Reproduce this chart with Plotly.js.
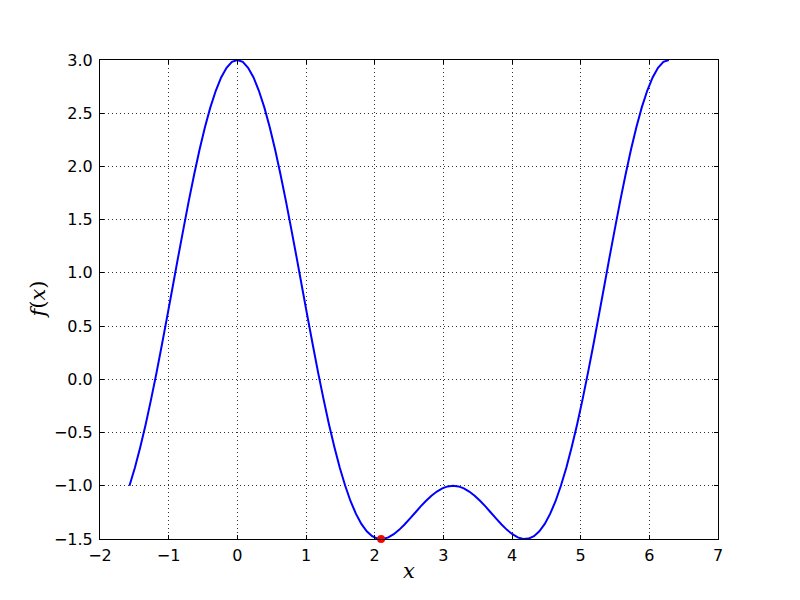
<!DOCTYPE html>
<html>
<head>
<meta charset="utf-8">
<script src="https://cdn.plot.ly/plotly-3.0.1.min.js"></script>
<style>
  html, body { margin: 0; padding: 0; background: #fff; }
  #chart { width: 800px; height: 600px; }
</style>
</head>
<body>
<div id="chart"></div>
<script>
// curve samples
const xs = [-1.571, -1.492, -1.414, -1.335, -1.257, -1.178, -1.100, -1.021, -0.942, -0.864,
  -0.785, -0.707, -0.628, -0.550, -0.471, -0.393, -0.314, -0.236, -0.157, -0.079,
  0.000, 0.079, 0.157, 0.236, 0.314, 0.393, 0.471, 0.550, 0.628, 0.707,
  0.785, 0.864, 0.942, 1.021, 1.100, 1.178, 1.257, 1.335, 1.414, 1.492,
  1.571, 1.649, 1.728, 1.806, 1.885, 1.963, 2.042, 2.121, 2.199, 2.278,
  2.356, 2.435, 2.513, 2.592, 2.670, 2.749, 2.827, 2.906, 2.985, 3.063,
  3.142, 3.220, 3.299, 3.377, 3.456, 3.534, 3.613, 3.691, 3.770, 3.848,
  3.927, 4.006, 4.084, 4.163, 4.241, 4.320, 4.398, 4.477, 4.555, 4.634,
  4.712, 4.791, 4.869, 4.948, 5.027, 5.105, 5.184, 5.262, 5.341, 5.419,
  5.498, 5.576, 5.655, 5.733, 5.812, 5.890, 5.969, 6.048, 6.126, 6.205, 6.283]
const ys = [-1.000, -0.831, -0.638, -0.424, -0.191, 0.058, 0.320, 0.591, 0.867, 1.143,
  1.414, 1.677, 1.927, 2.159, 2.370, 2.555, 2.711, 2.836, 2.927, 2.982,
  3.000, 2.982, 2.927, 2.836, 2.711, 2.555, 2.370, 2.159, 1.927, 1.677,
  1.414, 1.143, 0.867, 0.591, 0.320, 0.058, -0.191, -0.424, -0.638, -0.831,
  -1.000, -1.145, -1.264, -1.358, -1.427, -1.473, -1.496, -1.499, -1.485, -1.455,
  -1.414, -1.364, -1.309, -1.251, -1.194, -1.141, -1.093, -1.054, -1.024, -1.006,
  -1.000, -1.006, -1.024, -1.054, -1.093, -1.141, -1.194, -1.251, -1.309, -1.364,
  -1.414, -1.455, -1.485, -1.499, -1.496, -1.473, -1.427, -1.358, -1.264, -1.145,
  -1.000, -0.831, -0.638, -0.424, -0.191, 0.058, 0.320, 0.591, 0.867, 1.143,
  1.414, 1.677, 1.927, 2.159, 2.370, 2.555, 2.711, 2.836, 2.927, 2.982, 3.000]

// the marked minimum
const minX = [2.094]
const minY = [-1.500]

const xTicks = [-2, -1, 0, 1, 2, 3, 4, 5, 6, 7]
const yTicks = [-1.5, -1.0, -0.5, 0.0, 0.5, 1.0, 1.5, 2.0, 2.5, 3.0]

const axisCommon = {
  showline: true,
  linecolor: '#000',
  linewidth: 1,
  mirror: 'ticks',
  ticks: 'inside',
  ticklen: 4,
  tickwidth: 1,
  tickcolor: '#000',
  showgrid: true,
  gridcolor: '#333',
  gridwidth: 1,
  griddash: '1px,3px',
  zeroline: false,
  tickfont: { family: 'DejaVu Sans', size: 16, color: '#000' },
}

const labelFont = { family: 'DejaVu Serif', size: 21, color: '#000' }

const data = [
  {
    type: 'scatter',
    mode: 'lines',
    x: xs,
    y: ys,
    line: { color: '#0000ff', width: 2, simplify: false },
    hoverinfo: 'x+y',
  },
  {
    type: 'scatter',
    mode: 'markers',
    x: minX,
    y: minY,
    marker: { color: '#ff0000', size: 8 },
    cliponaxis: false,
  },
]

const layout = {
  width: 800,
  height: 600,
  showlegend: false,
  paper_bgcolor: '#fff',
  plot_bgcolor: '#fff',
  margin: { t: 60, r: 82, b: 61, l: 100 },
  xaxis: Object.assign({}, axisCommon, {
    range: [-2, 7],
    tickvals: xTicks,
    ticktext: xTicks.map(v => String(v).replace('-', '\u2212')),
    ticklabelstandoff: 2,
  }),
  yaxis: Object.assign({}, axisCommon, {
    range: [-1.5, 3.0],
    tickvals: yTicks,
    ticktext: yTicks.map(v => v.toFixed(1).replace('-', '\u2212')),
    ticklabelstandoff: 3,
  }),
  annotations: [
    {
      text: '<i>x</i>',
      xref: 'paper', yref: 'paper',
      x: 0.5, y: 0,
      xanchor: 'center', yanchor: 'middle',
      yshift: -32,
      showarrow: false,
      font: labelFont,
    },
    {
      text: '<i>f</i>(<i>x</i>)',
      xref: 'paper', yref: 'paper',
      x: 0, y: 0.5,
      xanchor: 'center', yanchor: 'middle',
      xshift: -63,
      textangle: -90,
      showarrow: false,
      font: labelFont,
    },
  ],
}

Plotly.newPlot('chart', data, layout, { displayModeBar: false, staticPlot: true })
</script>
</body>
</html>
